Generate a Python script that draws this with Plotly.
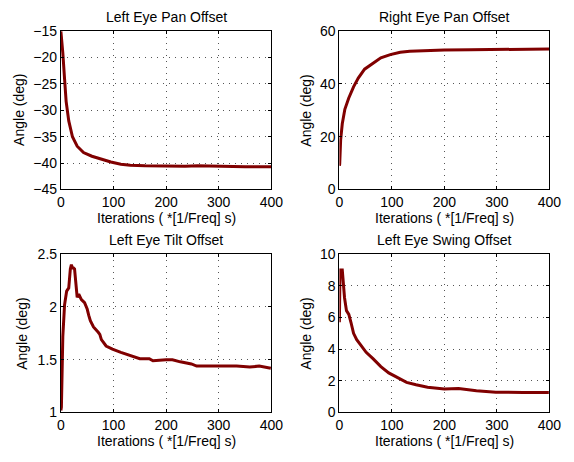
import plotly.graph_objects as go

# ---- data ----
pan_l_x = [0, 1, 3.7, 7, 10, 15, 22, 31, 43, 59, 77, 95, 114, 132, 160, 200, 236, 260, 300, 350, 400]
pan_l_y = [-15, -16, -19.1, -24, -28.3, -32, -35, -36.8, -38, -38.7, -39.3, -39.8, -40.2, -40.4, -40.5, -40.6, -40.6, -40.5, -40.6, -40.7, -40.7]

pan_r_x = [0, 0.6, 2.4, 5.5, 10.4, 17.7, 27, 36, 48, 64, 79, 97, 116, 134, 160, 200, 250, 300, 350, 400]
pan_r_y = [9.0, 9.6, 18.8, 24.9, 30.4, 34.6, 38.9, 42.2, 45.6, 48, 49.9, 51.1, 52, 52.4, 52.7, 52.9, 53.0, 53.0, 53.1, 53.2]

tilt_x = [0, 1, 3.7, 7, 11, 15, 18, 20, 22, 24, 26, 28, 31, 34, 36, 39, 45, 50, 53, 56, 62, 68, 71, 74, 77, 86, 98, 114, 132, 150, 168, 175, 200, 212, 227, 248, 258, 298, 334, 359, 377, 399]
tilt_y = [1.02, 1.05, 1.72, 2.02, 2.15, 2.18, 2.36, 2.4, 2.37, 2.37, 2.36, 2.21, 2.09, 2.12, 2.1, 2.07, 2.04, 1.98, 1.92, 1.87, 1.81, 1.78, 1.76, 1.74, 1.69, 1.63, 1.60, 1.57, 1.54, 1.51, 1.51, 1.49, 1.5, 1.5, 1.48, 1.46, 1.44, 1.44, 1.44, 1.43, 1.44, 1.42]

swing_x = [0, 1.2, 5.5, 7.3, 9.8, 13.5, 18, 22, 27, 33, 42, 51, 64, 79, 94, 110, 128, 146, 168, 200, 227, 261, 298, 350, 399]
swing_y = [5.7, 9.0, 9.0, 8.07, 7.25, 6.43, 6.2, 5.7, 5.0, 4.6, 4.2, 3.8, 3.4, 2.9, 2.5, 2.2, 1.9, 1.75, 1.6, 1.48, 1.52, 1.38, 1.28, 1.27, 1.26]

titles = ["Left Eye Pan Offset", "Right Eye Pan Offset", "Left Eye Tilt Offset", "Left Eye Swing Offset"]
y_ranges = [[-45, -15], [0, 60], [1, 2.5], [0, 10]]
y_dticks = [5, 20, 0.5, 2]
x_label = "Iterations ( *[1/Freq] s)"
y_label = "Angle (deg)"

series = [(pan_l_x, pan_l_y), (pan_r_x, pan_r_y), (tilt_x, tilt_y), (swing_x, swing_y)]

W, H = 574, 462
# plot boxes in pixels (left, right, top, bottom)
boxes = [(58.5, 275, 24, 188), (345, 561, 24, 188), (58.5, 275, 255, 419), (345, 561, 255, 419)]
ylabel_x = [16, 311, 19, 311]

FONT = "Liberation Sans, Arial, Helvetica, sans-serif"
LINE = "#800000"
FS = 14

fig = go.Figure()
layout = dict(
    width=W, height=H, margin=dict(l=0, r=0, t=0, b=0),
    paper_bgcolor="white", plot_bgcolor="white", showlegend=False,
    font=dict(family=FONT, size=FS, color="black"),
)
annotations = []
for i, ((xs, ys), box) in enumerate(zip(series, boxes)):
    n = "" if i == 0 else str(i + 1)
    xa, ya = "x" + n, "y" + n
    fig.add_trace(go.Scatter(x=xs, y=ys, mode="lines", xaxis=xa, yaxis=ya,
                             line=dict(color=LINE, width=3)))
    l, r, t, b = box
    axcommon = dict(showline=True, linecolor="black", linewidth=1, mirror="ticks",
                    ticks="inside", ticklen=3, tickcolor="black",
                    showgrid=True, gridcolor="#555555", gridwidth=1, griddash="1px,5px",
                    zeroline=False, tickfont=dict(size=FS, family=FONT, color="black"))
    layout["xaxis" + n] = dict(axcommon, domain=[l / W, r / W], range=[0, 400], dtick=100,
                               anchor=ya, fixedrange=True)
    layout["yaxis" + n] = dict(axcommon, domain=[1 - b / H, 1 - t / H], range=y_ranges[i],
                               dtick=y_dticks[i], anchor=xa, fixedrange=True)
    cx = (l + r) / 2 / W
    annotations.append(dict(text=titles[i], x=cx, y=1 - (t - 14.5) / H, xref="paper", yref="paper",
                            showarrow=False, font=dict(size=FS, family=FONT), xanchor="center", yanchor="middle"))
    annotations.append(dict(text=x_label, x=cx, y=1 - (b + 30) / H, xref="paper", yref="paper",
                            showarrow=False, font=dict(size=FS, family=FONT), xanchor="center", yanchor="middle"))
    annotations.append(dict(text=y_label, x=ylabel_x[i] / W, y=1 - (t + b) / 2 / H, xref="paper", yref="paper",
                            showarrow=False, textangle=-90, font=dict(size=FS, family=FONT),
                            xanchor="center", yanchor="middle"))
layout["annotations"] = annotations
fig.update_layout(**layout)
fig.write_html("out.html", config={"displayModeBar": False},
               post_script="document.body.style.margin='0';document.body.style.overflow='hidden';")
